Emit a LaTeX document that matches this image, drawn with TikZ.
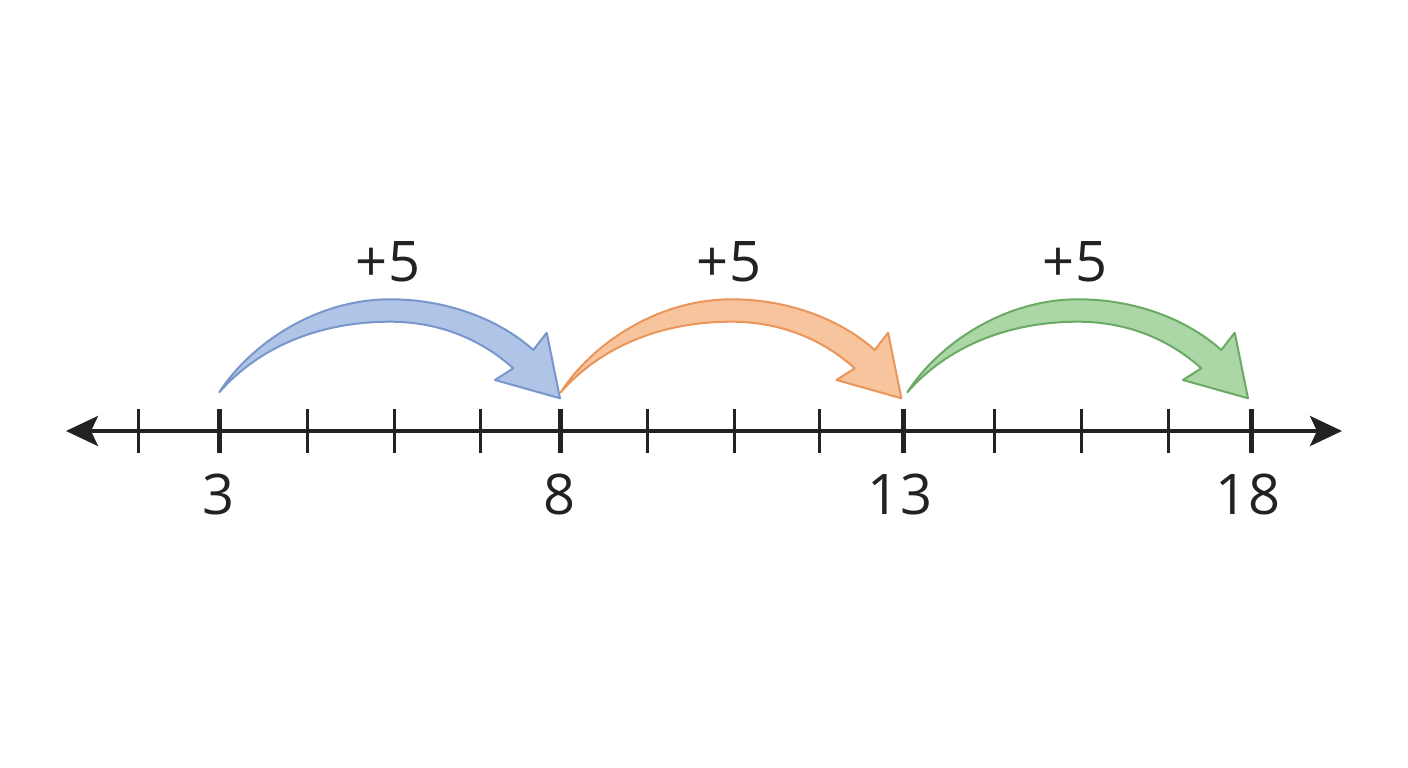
\documentclass[tikz,border=0pt]{standalone}
\usepackage{fontspec}
\setmainfont{Open Sans}
\usetikzlibrary{arrows.meta}
\definecolor{lineblack}{HTML}{222222}
\definecolor{bluefill}{HTML}{AFC4E6}
\definecolor{bluedraw}{HTML}{7896CA}
\definecolor{orangefill}{HTML}{F7C49E}
\definecolor{orangedraw}{HTML}{EA955A}
\definecolor{greenfill}{HTML}{ABD6A6}
\definecolor{greendraw}{HTML}{6BAA64}
\tikzset{
  axis/.style={line width=4pt, draw=lineblack, {Stealth[length=32pt,width=30pt,inset=7pt]}-{Stealth[length=32pt,width=30pt,inset=7pt]}},
  thintick/.style={line width=3pt, draw=lineblack},
  thicktick/.style={line width=5pt, draw=lineblack},
  numlabel/.style={anchor=base, inner sep=0pt, text=lineblack, font=\fontsize{56}{60}\selectfont},
  jumplabel/.style={anchor=base, inner sep=0pt, text=lineblack, font=\fontsize{56}{60}\selectfont},
  jump/.style={line width=2pt, line join=round},
}
\newcommand{\jumparrow}[1]{%
  (219.3,392.3) .. controls (252,342) and (318,299.3) .. (390,299.3)
  .. controls (448,299.3) and (500,320) .. (533.3,350)
  -- (546.7,332.7) -- (560,398.3) -- (495,380) -- (513.3,368.3)
  .. controls (482,340) and (440,321.7) .. (390,321.7)
  .. controls (318,321.7) and (258,348) .. (219.3,392.3) -- cycle}
\begin{document}
\begin{tikzpicture}[x=1pt,y=-1pt]
\useasboundingbox (0,0) rectangle (1408,768);
% axis ends
\coordinate (L) at (66,431);
\coordinate (R) at (1342,431);
\draw[axis] (L) -- (R);
% ticks
\foreach \n/\x in {a/138.7,b/307,c/394,d/480.5,e/647.7,f/734.7,g/819.3,h/994.3,i/1081.3,j/1168.3}{
  \coordinate (t\n) at (\x,431);
  \draw[thintick] ([yshift=-22pt]t\n) -- ([yshift=22pt]t\n);
}
\foreach \n/\x in {3/219.5,8/560.5,13/903.3,18/1251}{
  \coordinate (m\n) at (\x,431);
  \draw[thicktick] ([yshift=-22pt]m\n) -- ([yshift=22pt]m\n);
}
% number labels
\node[numlabel] (l3)  at (219,514) {3};
\node[numlabel] (l8)  at (559.5,514) {8};
\node[numlabel] (l13) at (900,514) {13};
\node[numlabel] (l18) at (1248,514) {18};
% jump arrows
\fill[bluefill] \jumparrow{};
\draw[jump, bluedraw] \jumparrow{};
\begin{scope}[xshift=341.4pt]
\fill[orangefill] \jumparrow{};
\draw[jump, orangedraw] \jumparrow{};
\end{scope}
\begin{scope}[xshift=688pt]
\fill[greenfill] \jumparrow{};
\draw[jump, greendraw] \jumparrow{};
\end{scope}
% jump labels
\node[jumplabel] (j1) at (388,281) {+5};
\node[jumplabel] (j2) at (729,281) {+5};
\node[jumplabel] (j3) at (1075,281) {+5};
\end{tikzpicture}
\end{document}
